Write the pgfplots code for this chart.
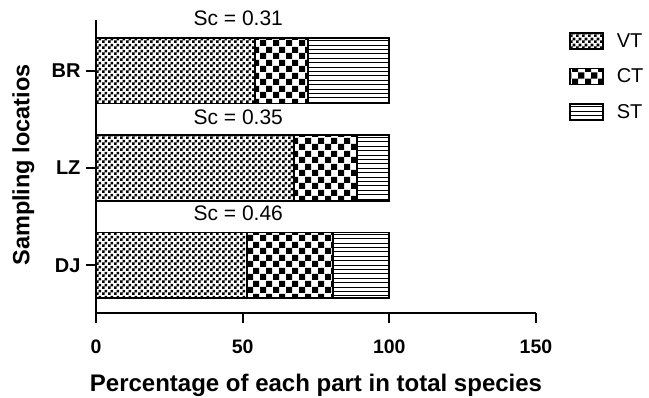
\documentclass[border=0pt]{standalone}
\usepackage{fontspec}
\setmainfont{Liberation Sans}
\usepackage{pgfplots}
\pgfplotsset{compat=1.18}
\usetikzlibrary{patterns}

\pgfdeclarepatternformonly{finecheck}{\pgfpointorigin}{\pgfqpoint{6pt}{6pt}}{\pgfqpoint{6pt}{6pt}}{%
  \pgfpathrectangle{\pgfpointorigin}{\pgfqpoint{3pt}{3pt}}%
  \pgfpathrectangle{\pgfqpoint{3pt}{3pt}}{\pgfqpoint{3pt}{3pt}}%
  \pgfusepath{fill}}
\pgfdeclarepatternformonly{coarsecheck}{\pgfpointorigin}{\pgfqpoint{13pt}{13pt}}{\pgfqpoint{13pt}{13pt}}{%
  \pgfpathrectangle{\pgfpointorigin}{\pgfqpoint{6.5pt}{6.5pt}}%
  \pgfpathrectangle{\pgfqpoint{6.5pt}{6.5pt}}{\pgfqpoint{6.5pt}{6.5pt}}%
  \pgfusepath{fill}}
\pgfdeclarepatternformonly{hlines}{\pgfqpoint{-0.5pt}{-1pt}}{\pgfqpoint{5pt}{1pt}}{\pgfqpoint{4.4pt}{4.4pt}}{%
  \pgfsetlinewidth{0.9pt}%
  \pgfpathmoveto{\pgfqpoint{-0.5pt}{0pt}}%
  \pgfpathlineto{\pgfqpoint{5pt}{0pt}}%
  \pgfusepath{stroke}}

\begin{document}
\begin{tikzpicture}
\begin{axis}[
  scale only axis,
  width=440pt, height=293pt,
  xbar stacked,
  bar width=0.675,
  xmin=0, xmax=150,
  ymin=-0.49, ymax=2.52,
  axis lines*=left,
  axis line style={line width=1.8pt},
  xtick={0,50,100,150},
  ytick={0,1,2},
  yticklabels={DJ,LZ,BR},
  tick align=outside,
  major tick length=10pt,
  tick style={line width=1.8pt, black},
  xticklabel style={font=\fontsize{19.5}{22}\selectfont\bfseries, yshift=-13pt},
  yticklabel style={font=\fontsize{20}{22}\selectfont\bfseries, xshift=-2pt},
  /pgf/number format/assume math mode=true,
  xlabel={Percentage of each part in total species},
  ylabel={Sampling locatios},
  label style={font=\fontsize{23.5}{26}\selectfont\bfseries},
  xlabel style={at={(axis description cs:0.5,-0.248)}, anchor=center, font=\fontsize{24}{26}\selectfont\bfseries},
  ylabel style={at={(axis description cs:-0.165,0.505)}, anchor=center},
  clip=false,
  legend style={at={(axis description cs:1.068,0.968)}, anchor=north west,
    draw=none, fill=none, font=\fontsize{20}{23}\selectfont, row sep=16pt},
  legend cell align=left,
  legend image code/.code={\draw[#1, line width=1.5pt] (0pt,-8pt) rectangle (33pt,8pt); \path (44pt,0pt);},
]
\addplot[draw=black, line width=1.8pt, fill=white, postaction={pattern=finecheck}] coordinates {(51.4,0) (67.5,1) (54.2,2)};
\addplot[draw=black, line width=1.8pt, fill=white, postaction={pattern=coarsecheck}] coordinates {(29.3,0) (21.4,1) (18.0,2)};
\addplot[draw=black, line width=1.8pt, fill=white, postaction={pattern=hlines}] coordinates {(19.3,0) (11.1,1) (27.8,2)};
\legend{VT,CT,ST}
\node[font=\fontsize{21}{24}\selectfont] at (axis cs:48.5,2.54) {Sc = 0.31};
\node[font=\fontsize{21}{24}\selectfont] at (axis cs:48.5,1.52) {Sc = 0.35};
\node[font=\fontsize{21}{24}\selectfont] at (axis cs:48.5,0.53) {Sc = 0.46};
\coordinate (ll) at (rel axis cs:0,0);
\end{axis}
\pgfresetboundingbox
\useasboundingbox ([shift={(-96pt,-84pt)}]ll) rectangle ([shift={(553pt,313pt)}]ll);
\end{tikzpicture}
\end{document}
